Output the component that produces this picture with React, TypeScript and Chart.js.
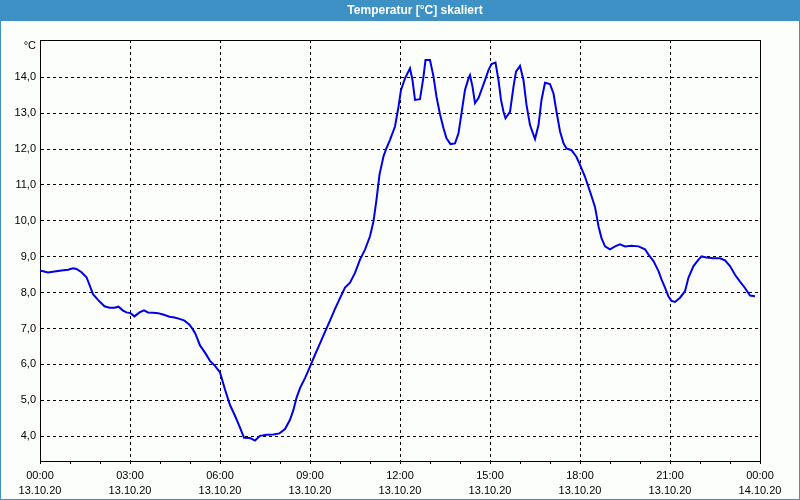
import React, { useEffect, useRef } from 'react';
import { Chart, registerables } from 'chart.js';

Chart.register(...registerables);

// time of day in minutes since 13.10.20 00:00
const minutes = [
  0, 16, 29, 43, 56, 66, 73, 83, 93, 99, 106, 116, 129, 139, 149, 157, 166, 173, 181, 189,
  199, 208, 216, 226, 236, 246, 259, 269, 279, 289, 299, 306, 311, 320, 330, 340, 350, 360, 370, 380,
  390, 400, 408, 420, 430, 440, 453, 467, 479, 490, 500, 507, 513, 520, 530, 540, 550, 560, 570, 580,
  590, 600, 610, 620, 630, 640, 650, 660, 667, 673, 679, 687, 693, 700, 710, 717, 722, 730, 740, 745,
  750, 760, 767, 771, 780, 787, 793, 800, 807, 813, 821, 830, 837, 843, 850, 857, 860, 865, 870, 877,
  883, 890, 897, 903, 911, 917, 922, 927, 931, 940, 947, 952, 960, 967, 973, 980, 990, 997, 1003, 1010,
  1020, 1027, 1033, 1040, 1047, 1053, 1063, 1073, 1080, 1090, 1100, 1110, 1117, 1123, 1130, 1140, 1150, 1160, 1170, 1183,
  1197, 1210, 1217, 1227, 1237, 1243, 1250, 1257, 1263, 1270, 1280, 1290, 1297, 1307, 1317, 1323, 1333, 1347, 1360, 1370,
  1380, 1390, 1400, 1410, 1420, 1430,
];

// temperature in °C
const temps = [
  8.62, 8.56, 8.59, 8.62, 8.64, 8.68, 8.66, 8.57, 8.43, 8.22, 7.96, 7.80, 7.62, 7.58, 7.58, 7.61, 7.50, 7.45, 7.43, 7.34,
  7.45, 7.51, 7.45, 7.44, 7.43, 7.39, 7.33, 7.31, 7.27, 7.22, 7.11, 6.97, 6.85, 6.53, 6.33, 6.10, 5.96, 5.78, 5.30, 4.87,
  4.57, 4.24, 3.96, 3.95, 3.88, 4.01, 4.04, 4.05, 4.08, 4.20, 4.46, 4.74, 5.07, 5.34, 5.62, 5.94, 6.27, 6.59, 6.91, 7.22,
  7.55, 7.85, 8.14, 8.28, 8.55, 8.92, 9.20, 9.57, 9.99, 10.59, 11.29, 11.80, 12.03, 12.26, 12.63, 13.18, 13.65, 13.97, 14.25, 13.92,
  13.37, 13.39, 14.02, 14.48, 14.48, 14.02, 13.46, 12.97, 12.58, 12.30, 12.14, 12.16, 12.44, 13.00, 13.65, 13.97, 14.06, 13.74, 13.28, 13.42,
  13.65, 13.92, 14.20, 14.37, 14.41, 13.92, 13.37, 13.04, 12.86, 13.04, 13.74, 14.16, 14.32, 13.92, 13.23, 12.67, 12.28, 12.67, 13.37, 13.85,
  13.81, 13.55, 13.04, 12.50, 12.16, 12.02, 11.97, 11.78, 11.56, 11.23, 10.82, 10.39, 9.85, 9.52, 9.29, 9.21, 9.29, 9.35, 9.29, 9.31,
  9.29, 9.21, 9.06, 8.88, 8.60, 8.37, 8.14, 7.89, 7.77, 7.74, 7.86, 8.04, 8.42, 8.74, 8.92, 9.01, 8.98, 8.96, 8.96, 8.90,
  8.74, 8.50, 8.31, 8.13, 7.92, 7.90,
];

const yTicks = [4, 5, 6, 7, 8, 9, 10, 11, 12, 13, 14];
const xMinorTicks = [
  0, 60, 120, 180, 240, 300, 360, 420, 480, 540, 600, 660, 720,
  780, 840, 900, 960, 1020, 1080, 1140, 1200, 1260, 1320, 1380, 1440,
];
const xLabelMinutes = [0, 180, 360, 540, 720, 900, 1080, 1260, 1440];
const xLabelTimes = ['00:00', '03:00', '06:00', '09:00', '12:00', '15:00', '18:00', '21:00', '00:00'];
const xLabelDates = ['13.10.20', '13.10.20', '13.10.20', '13.10.20', '13.10.20', '13.10.20', '13.10.20', '13.10.20', '14.10.20'];

const titleText = 'Temperatur [°C] skaliert';
const unitText = '°C';

const FONT = '"Liberation Sans", Arial, sans-serif';
const BAR = '#3d91c4';
const BG = '#fcfefc';

export default function App() {
  const ref = useRef<HTMLCanvasElement>(null);

  useEffect(() => {
    document.body.style.margin = '0';
    const canvas = ref.current;
    if (!canvas) return;

    const framePlugin = {
      id: 'framePlugin',
      beforeDraw(chart: any) {
        const { ctx, width, height } = chart;
        ctx.save();
        ctx.fillStyle = BG;
        ctx.fillRect(0, 0, width, height);
        ctx.fillStyle = BAR;
        ctx.fillRect(0, 0, width, 21);
        ctx.fillRect(0, 0, 1, height);
        ctx.fillRect(width - 1, 0, 1, height);
        ctx.fillRect(0, height - 1, width, 1);
        ctx.fillStyle = '#ffffff';
        ctx.font = 'bold 12px ' + FONT;
        ctx.textAlign = 'center';
        ctx.textBaseline = 'middle';
        ctx.fillText(titleText, 415, 10.5);
        ctx.fillStyle = '#000000';
        ctx.font = '11px ' + FONT;
        ctx.textAlign = 'right';
        ctx.fillText(unitText, 36, 46);
        ctx.restore();
      },
      beforeDatasetsDraw(chart: any) {
        const { ctx, chartArea } = chart;
        ctx.save();
        ctx.fillStyle = '#000000';
        ctx.fillRect(chartArea.left, chartArea.top, chartArea.right - chartArea.left + 1, 1);
        ctx.fillRect(chartArea.right, chartArea.top, 1, chartArea.bottom - chartArea.top + 1);
        ctx.restore();
      },
    };

    const chart = new Chart(canvas, {
      type: 'line',
      data: {
        datasets: [
          {
            data: minutes.map((m, i) => ({ x: m, y: temps[i] })),
            borderColor: '#0000e6',
            borderWidth: 2,
            pointRadius: 0,
            fill: false,
            tension: 0,
          },
        ],
      },
      options: {
        responsive: false,
        animation: false,
        devicePixelRatio: 1,
        layout: { padding: { top: 40, right: 40, left: 0, bottom: 0 } },
        plugins: {
          legend: { display: false },
          tooltip: { enabled: false },
          title: { display: false },
        },
        font: { family: FONT, size: 11 },
        scales: {
          x: {
            type: 'linear',
            min: 0,
            max: 1440,
            afterBuildTicks: (s: any) => {
              s.ticks = xMinorTicks.map((v) => ({ value: v }));
            },
            afterFit: (s: any) => {
              s.height = 39;
            },
            ticks: {
              autoSkip: false,
              maxRotation: 0,
              minRotation: 0,
              padding: 4,
              color: '#000000',
              font: { family: FONT, size: 11, lineHeight: 15 / 11 },
              callback: (v: any) => {
                const i = xLabelMinutes.indexOf(Number(v));
                return i >= 0 ? [xLabelTimes[i], xLabelDates[i]] : '';
              },
            },
            grid: {
              color: (c: any) =>
                c.tick && xLabelMinutes.indexOf(c.tick.value) >= 0 ? '#000000' : 'rgba(0,0,0,0)',
              tickColor: '#000000',
              tickLength: 3,
              lineWidth: 1,
            },
            border: { display: true, color: '#000000', width: 1, dash: [3, 3] },
          },
          y: {
            type: 'linear',
            min: 3.31,
            max: 15.04,
            afterBuildTicks: (s: any) => {
              s.ticks = yTicks.map((v) => ({ value: v }));
            },
            afterFit: (s: any) => {
              s.width = 40;
            },
            ticks: {
              padding: 4,
              color: '#000000',
              font: { family: FONT, size: 11 },
              callback: (v: any) => Number(v).toFixed(1).replace('.', ','),
            },
            grid: { color: '#000000', drawTicks: false, lineWidth: 1 },
            border: { display: true, color: '#000000', width: 1, dash: [3, 3] },
          },
        },
      } as any,
      plugins: [framePlugin],
    });

    return () => chart.destroy();
  }, []);

  return (
    <canvas
      ref={ref}
      width={800}
      height={500}
      style={{ position: 'absolute', left: 0, top: 0, width: 800, height: 500 }}
    />
  );
}
